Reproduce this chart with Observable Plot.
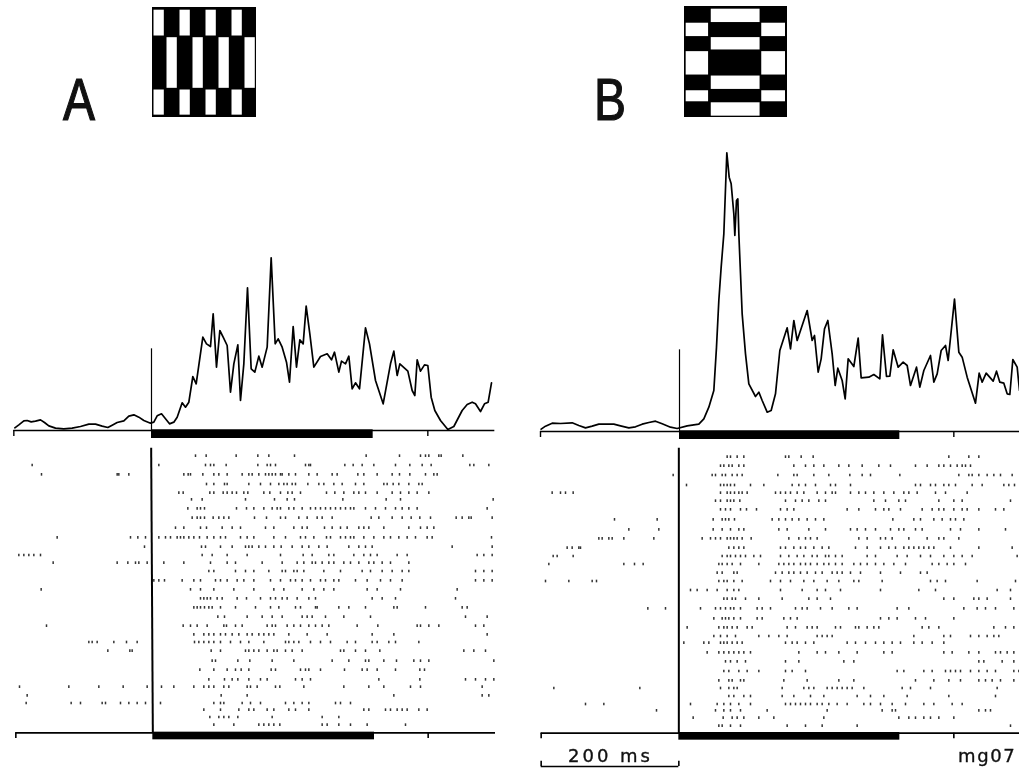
<!DOCTYPE html>
<html>
<head>
<meta charset="utf-8">
<script src="https://cdn.jsdelivr.net/npm/d3@7"></script>
<script src="https://cdn.jsdelivr.net/npm/@observablehq/plot@0.6"></script>
<style>
  html, body { margin: 0; padding: 0; background: #fff; }
  #page { position: relative; width: 1019px; height: 768px; overflow: hidden; background: #fff; filter: blur(0.6px); }
  #page svg { position: absolute; background: transparent; }
  .letter { position: absolute; font-family: "Liberation Sans", sans-serif; font-size: 60px; line-height: 62px; color: #111; transform-origin: left top; transform: scaleX(0.8); -webkit-text-stroke: 1.2px #111; }
  .note { position: absolute; font-family: "DejaVu Sans", sans-serif; font-size: 18px; line-height: 20px; color: #111; letter-spacing: 3px; white-space: nowrap; -webkit-text-stroke: 0.35px #111; }
  .tag { letter-spacing: 1.6px; }
</style>
</head>
<body>
<div id="page"></div>
<script>
// Time axis unit: acquisition ticks of about 0.48 ms from the start of each sweep.
const onsetA = 453, offsetA = 1118, onsetB = 445, offsetB = 1108;

const psthTicksA = [43,55,70,80,92,105,120,132,145,165,190,215,240,265,285,305,322,335,350,370,385,400,415,430,450,460,470,483,495,507,520,530,545,555,565,577,587,607,618,630,638,648,658,668,680,690,700,712,720,730,741,752,763,775,785,800,812,824,833,845,858,867,878,888,898,908,917,928,940,960,980,993,1002,1015,1023,1035,1045,1055,1065,1077,1095,1107,1125,1148,1170,1180,1190,1198,1222,1235,1243,1250,1260,1272,1282,1292,1303,1320,1342,1360,1385,1400,1415,1425,1440,1452,1463,1473];
const psthRateA = [8,17,29,30,26,28,32,24,14,7,5,7,12,19,19,13,9,16,24,29,43,47,40,30,22,25,44,50,35,20,25,40,83,70,85,162,140,280,260,252,350,190,300,280,255,115,200,257,90,200,428,185,175,223,190,250,518,260,275,250,205,145,312,190,272,260,373,290,190,222,230,212,235,175,208,200,223,125,143,125,308,260,150,80,200,238,165,200,178,120,105,212,178,197,195,100,60,30,3,12,60,78,85,80,57,80,85,143];

const psthTicksB = [32,45,65,90,125,145,165,185,205,250,270,295,315,335,355,375,395,420,440,470,505,520,535,550,558,565,572,580,589,596,602,610,613,618,622,625,630,635,645,655,675,685,695,710,722,735,748,770,780,790,800,830,845,852,863,872,882,892,905,914,922,935,944,953,970,983,992,1015,1030,1048,1056,1068,1078,1088,1103,1118,1130,1140,1158,1168,1180,1200,1210,1220,1232,1245,1253,1272,1285,1295,1310,1335,1346,1355,1367,1388,1398,1408,1420,1430,1438,1447,1460,1467];
const psthRateB = [7,16,25,24,26,18,11,16,22,22,17,11,14,22,27,31,23,13,9,17,22,38,73,123,253,393,493,593,836,763,743,653,588,693,698,593,473,353,233,143,105,118,93,58,63,113,243,311,248,333,273,363,273,288,178,218,308,333,233,138,190,153,98,218,195,280,161,163,171,158,290,165,166,245,193,208,198,138,193,133,183,228,148,173,243,258,213,397,238,223,163,85,175,148,175,151,181,148,145,113,111,216,193,123];

const trialPosA = [47,75,103,132,158,178,205,233,263,292,320,345,368,393,421,448,475,502,530,557,583,606,632,662,689,718,740,766,789,809,831,854];
const spikesA = [
 [585,617,707,772,805,882,1097,1197,1260,1275,1285,1315,1322,1387],
 [95,475,615,630,640,677,772,800,810,825,915,925,930,1033,1058,1085,1120,1185,1228,1265,1292,1408,1420,1465],
 [123,350,355,385,550,563,570,607,640,655,680,725,745,755,775,795,805,815,825,840,845,865,885,925,950,995,1010,1072,1090,1130,1175,1197,1228,1275,1300,1310],
 [618,640,672,680,745,780,810,835,850,860,875,885,922,955,970,1000,1025,1065,1090,1150,1160,1178,1195,1225,1255,1265],
 [535,548,628,640,668,680,695,708,730,742,790,808,840,862,875,900,978,1003,1030,1060,1075,1095,1130,1175,1200,1225,1250,1285],
 [573,605,735,822,860,882,1027,1157,1200,1478],
 [562,590,600,612,708,738,760,790,815,830,840,865,880,905,930,945,960,975,990,1005,1020,1035,1050,1060,1095,1125,1155,1185,1205,1225,1250,1460],
 [575,590,600,612,638,655,670,685,762,798,840,855,895,920,950,965,995,1112,1135,1175,1205,1232,1258,1290,1367,1385,1405,1412,1475],
 [525,550,600,618,665,695,720,795,820,880,905,920,972,995,1020,1040,1075,1090,1105,1150,1225,1260,1280,1300],
 [170,390,412,435,475,495,510,530,540,550,565,580,597,620,640,660,675,720,740,760,820,855,900,915,940,978,990,1020,1035,1050,1060,1090,1120,1150,1170,1195,1220,1245,1280,1295,1473],
 [432,603,615,660,695,735,745,755,775,795,820,842,875,905,925,955,980,1045,1075,1095,1115,1355,1475],
 [55,70,85,100,120,605,635,680,740,840,908,935,985,1000,1060,1090,1110,1130,1190,1220,1430,1450,1475],
 [158,350,382,405,415,440,490,550,630,680,705,785,845,890,910,935,945,965,985,1000,1030,1050,1075,1105,1120,1145,1170,1225],
 [625,640,705,735,760,805,845,855,880,890,910,970,1020,1085,1110,1145,1175,1205,1225,1425,1450,1475],
 [460,475,492,545,580,600,645,660,680,710,730,760,810,840,870,885,905,930,960,975,1000,1015,1065,1100,1140,1170,1205,1425,1450,1475],
 [122,570,600,640,700,760,820,850,905,940,970,1000,1100,1130,1200,1370],
 [600,610,620,630,650,665,710,738,780,810,825,845,860,890,925,945,1115,1145,1185,1365],
 [580,590,600,612,625,635,660,705,765,810,835,885,900,945,950,1015,1045,1095,1180,1190,1275,1385,1400],
 [652,672,740,785,815,845,905,920,935,975,1030,1110,1395,1460],
 [138,548,570,590,620,670,678,705,725,800,815,825,860,880,900,925,945,965,985,1070,1132,1250,1260,1285,1315,1425,1450],
 [580,610,625,640,660,675,695,715,740,755,775,790,805,820,865,920,980,1115,1180,1460],
 [265,275,290,340,378,410,582,595,610,625,640,660,690,720,745,790,855,865,880,895,930,960,990,1040,1065,1115,1130,1165,1185,1255],
 [322,388,395,632,660,735,745,760,775,800,820,830,855,875,905,1020,1030,1065,1095,1138,1390,1420,1455],
 [635,645,712,748,815,880,995,1045,1095,1105,1150,1188,1240,1260,1285,1480],
 [598,640,680,705,722,745,812,825,900,915,925,960,1032,1085,1100,1130,1185,1258,1272],
 [625,672,695,712,745,780,800,885,905,930,1135,1258,1395,1425,1455,1480],
 [57,205,295,368,440,483,520,580,610,625,640,670,685,740,750,770,825,838,910,1030,1105,1150,1230,1260,1445],
 [80,662,740,1180,1445,1465],
 [77,212,240,305,315,360,385,410,435,480,640,660,670,725,750,780,855,880,905,925,1005,1020,1050],
 [610,660,715,745,760,800,820,865,885,925,1090,1105,1155,1170,1190,1205,1220,1255,1280],
 [628,655,670,685,712,815,965,1015],
 [640,700,775,790,805,820,838,965,980,1015,1050,1100,1215]
];

const trialPosB = [50,77,105,135,158,182,208,238,268,295,323,348,372,398,423,450,476,505,535,562,588,608,637,664,693,721,744,768,792,811,833,857];
const spikesB = [
 [590,600,620,640,765,775,812,848,1255,1315,1345],
 [570,580,595,605,625,640,790,825,850,880,925,955,995,1045,1080,1155,1190,1225,1240,1260,1280,1295,1305,1320],
 [428,545,555,575,585,605,620,635,742,790,800,850,895,958,995,1020,1108,1285,1315,1325,1345,1370,1390,1410,1445],
 [468,570,580,590,600,612,660,700,785,805,825,855,900,915,960,1155,1170,1200,1215,1240,1255,1275,1325,1355,1420,1435,1452],
 [65,90,105,128,570,590,600,612,625,635,650,735,750,765,780,800,820,860,885,905,915,960,985,1005,1030,1060,1090,1120,1135,1160,1215,1245,1310],
 [555,570,590,600,610,628,765,795,815,835,865,885,1030,1065,1105,1125,1225,1270,1295,1440],
 [570,585,600,630,648,678,750,770,790,950,985,1035,1060,1075,1110,1175,1205,1225,1240,1270,1295,1310,1345,1395,1420],
 [252,380,548,575,585,595,612,725,745,765,785,805,830,855,880,1087,1150,1170,1210,1235,1260,1275,1300],
 [295,385,548,575,600,625,640,745,770,835,885,960,980,1005,1035,1080,1105,1120,1155,1175,1260,1290,1345,1425],
 [205,215,235,245,280,370,515,540,555,570,590,600,610,620,635,662,775,805,825,840,860,985,1010,1050,1065,1085,1135,1190,1225,1240,1285],
 [110,125,145,150,595,610,625,640,750,765,790,810,825,850,875,895,975,1010,1050,1075,1095,1120,1135,1150,1165,1180,1195,1210,1260,1345,1445],
 [68,80,128,575,590,600,615,630,645,670,690,750,775,800,820,845,860,885,895,915,935,1010,1035,1100,1130,1170,1200,1240,1270,1295,1325,1460],
 [55,280,312,338,565,575,590,605,630,685,745,760,775,790,810,825,840,860,880,895,915,935,970,990,1010,1035,1060,1090,1125,1205,1225,1250,1270,1305],
 [560,575,610,620,735,755,775,790,810,830,855,875,905,920,935,960,990,1050,1110,1170,1190],
 [45,115,185,198,565,580,590,610,635,720,750,780,820,850,890,925,970,985,1055,1200,1220,1245,1340,1455],
 [480,500,530,560,590,610,625,750,815,860,885,930,1050,1165,1215,1400,1440],
 [580,590,605,615,645,685,755,835,860,900,1240,1270,1330,1345,1370,1440],
 [352,405,510,555,570,585,600,610,630,680,695,720,795,815,830,870,905,955,980,1100,1135,1300,1340,1365,1395,1450],
 [550,575,585,595,610,630,680,695,760,780,800,1050,1075,1100,1155,1185,1270],
 [470,565,580,590,605,620,650,665,770,795,830,845,860,915,930,975,985,1010,1030,1045,1175,1195,1225,1390,1425,1450],
 [550,570,590,615,685,715,745,770,860,875,890,905,1150,1240,1260,1320,1345,1370,1390,1405],
 [460,520,535,570,580,590,605,620,635,765,785,800,825,850,950,975,1005,1035,1060,1085,1110,1150,1175,1205,1240],
 [530,565,580,595,610,625,640,660,805,860,885,925,980,1060,1085,1240,1265,1315,1345,1395,1410,1430,1450],
 [585,600,620,645,765,805,940,970,1345,1360,1415,1450],
 [580,595,625,650,685,765,785,825,1100,1120,1180,1205,1245,1260,1275,1290,1320,1345,1370,1395,1450,1465],
 [565,595,605,630,640,760,830,925,970,1155,1210,1255,1290,1345,1365,1385,1410,1450],
 [70,328,570,595,610,620,755,820,835,850,890,905,920,935,950,965,1000,1115,1140,1200,1400],
 [595,610,640,660,755,790,840,880,980,1020,1060,1130,1255,1395],
 [165,220,480,560,580,600,625,660,765,780,795,810,825,840,860,875,895,920,950,1000,1020,1050,1085,1125,1180,1210,1265,1295],
 [378,555,580,600,630,710,890,1055,1085,1095,1345,1365,1380],
 [488,578,605,620,640,685,730,880,1105,1135,1155,1180,1200,1225,1270],
 [565,575,600,630,770,825,875,980,1440]
];

// Stimulus gratings
const whiteRowsA = [[8,85],[90,241],[246,321]];
const whiteColsA = [[0,2,4,6],[1,3,5,7],[0,2,4,6]];
const sideBandsB = [[50,90],[135,205],[252,285]];
const centerBandsB = [[8,48],[93,130],[208,248],[288,328]];
const sideColsB = [[5,72],[231,302]];
const centerColB = [80,226];

// Axis extents (ticks)
const axisA = {first: 40, last: 1483, tick: 1282, rasterFirst: 46, rasterLast: 1485, rasterTick: 1283};
const axisB = {first: 30, last: 1467, tick: 1270, rasterFirst: 32, rasterLast: 1467, rasterTick: 1270};

const ink = "#000";
const page = document.getElementById("page");
function place(svg, left, top) { svg.style.left = left + "px"; svg.style.top = top + "px"; page.appendChild(svg); }

function psth(left, width, ticks, rate, onset, offset, axis, floor) {
  const data = ticks.map((t, i) => ({t, r: rate[i]}));
  const svg = Plot.plot({
    width, height: 300, margin: 0, axis: null,
    x: {domain: [0, width * 3], range: [0, width]},
    y: {domain: [floor, floor + 900], range: [300, 0]},
    marks: [
      Plot.ruleY([0], {x1: axis.first, x2: axis.last, stroke: ink, strokeWidth: 1.5}),
      Plot.ruleX([axis.first, axis.tick], {y1: 0, y2: -18, stroke: ink, strokeWidth: 1.4}),
      Plot.ruleX([onset], {y1: 0, y2: 245, stroke: ink, strokeWidth: 1.2}),
      Plot.rect([0], {x1: onset, x2: offset, y1: 2, y2: -24, fill: "#000"}),
      Plot.line(data, {x: "t", y: "r", stroke: ink, strokeWidth: 1.7, curve: "linear"})
    ]
  });
  place(svg, left, 140);
}

function raster(left, width, pos, spikes, onsetTop, onsetBottom, offset, axis, lineY, extra) {
  const data = spikes.flatMap((row, i) => row.map(t => ({t, y: pos[i]})));
  const svg = Plot.plot({
    width, height: 328, margin: 0, axis: null,
    x: {domain: [0, width * 3], range: [0, width]},
    y: {domain: [0, 984], range: [0, 328]},
    marks: [
      Plot.ruleX(data, {x: "t", y1: d => d.y - 4, y2: d => d.y + 4, stroke: "#000", strokeWidth: 1.5, strokeOpacity: 0.8}),
      Plot.link([0], {x1: onsetTop, y1: 22, x2: onsetBottom, y2: lineY, stroke: ink, strokeWidth: 2}),
      Plot.ruleY([lineY], {x1: axis.rasterFirst, x2: axis.rasterLast, stroke: ink, strokeWidth: 1.6}),
      Plot.ruleX([axis.rasterFirst, axis.rasterTick], {y1: lineY, y2: lineY + 17, stroke: ink, strokeWidth: 1.6}),
      Plot.rect([0], {x1: onsetBottom, x2: offset, y1: lineY - 2, y2: lineY + 21, fill: "#000"}),
      ...(extra || [])
    ]
  });
  place(svg, left, 440);
}

function iconA() {
  const whites = whiteColsA.flatMap((cols, r) => cols.map(c => ({c, y1: whiteRowsA[r][0], y2: whiteRowsA[r][1]})));
  const svg = Plot.plot({
    width: 104, height: 110, margin: 0, axis: null,
    x: {domain: [0, 8], range: [0, 104]},
    y: {domain: [0, 328], range: [0, 110]},
    marks: [
      Plot.rect([0], {x1: 0, x2: 8, y1: 0, y2: 328, fill: "#000"}),
      Plot.rect(whites, {x1: d => d.c, x2: d => d.c + 1, y1: "y1", y2: "y2", fill: "#fff", insetLeft: 1.5, insetRight: 1.2})
    ]
  });
  place(svg, 152, 7);
}

function iconB() {
  const sides = sideColsB.flatMap(([a, b]) => sideBandsB.map(([y1, y2]) => ({a, b, y1, y2})));
  const centers = centerBandsB.map(([y1, y2]) => ({a: centerColB[0], b: centerColB[1], y1, y2}));
  const svg = Plot.plot({
    width: 103, height: 111, margin: 0, axis: null,
    x: {domain: [0, 308], range: [0, 103]},
    y: {domain: [0, 332], range: [0, 111]},
    marks: [
      Plot.rect([0], {x1: 0, x2: 308, y1: 0, y2: 332, fill: "#000"}),
      Plot.rect([...sides, ...centers], {x1: "a", x2: "b", y1: "y1", y2: "y2", fill: "#fff"})
    ]
  });
  place(svg, 684, 6);
}

function text(cls, str, left, top) {
  const d = document.createElement("div");
  d.className = cls; d.textContent = str;
  d.style.left = left + "px"; d.style.top = top + "px";
  page.appendChild(d);
}

iconA(); iconB();
text("letter", "A", 63, 69);
text("letter", "B", 594, 69);

psth(0, 510, psthTicksA, psthRateA, onsetA, offsetA, axisA, -30);
psth(530, 489, psthTicksB, psthRateB, onsetB + 2, offsetB, axisB, -27);

raster(0, 510, trialPosA, spikesA, 452, 457, 1122, axisA, 877);
const scaleBar = [
  Plot.ruleY([978], {x1: 32, x2: 445, stroke: ink, strokeWidth: 1.6}),
  Plot.ruleX([32, 445], {y1: 962, y2: 978, stroke: ink, strokeWidth: 1.6})
];
raster(530, 489, trialPosB, spikesB, 445, 445, 1108, axisB, 878, scaleBar);

text("note", "200 ms", 568, 746);
text("note tag", "mg07", 958, 746);
</script>
</body>
</html>
